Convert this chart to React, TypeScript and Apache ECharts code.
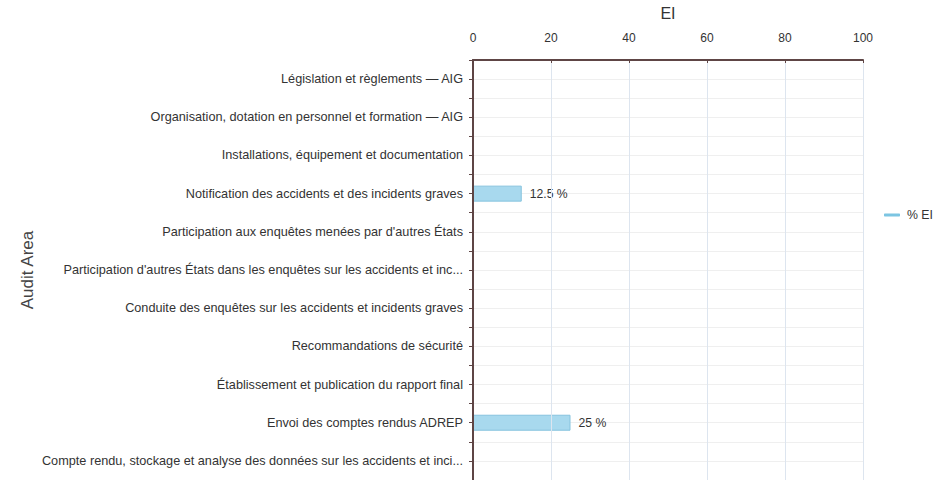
import React, { useEffect, useRef } from "react";
import * as echarts from "echarts";

const categories = [
  "Législation et règlements — AIG",
  "Organisation, dotation en personnel et formation — AIG",
  "Installations, équipement et documentation",
  "Notification des accidents et des incidents graves",
  "Participation aux enquêtes menées par d'autres États",
  "Participation d'autres États dans les enquêtes sur les accidents et inc...",
  "Conduite des enquêtes sur les accidents et incidents graves",
  "Recommandations de sécurité",
  "Établissement et publication du rapport final",
  "Envoi des comptes rendus ADREP",
  "Compte rendu, stockage et analyse des données sur les accidents et inci...",
];
const values = [0, 0, 0, 12.5, 0, 0, 0, 0, 0, 25, 0];
const seriesName = "% EI";
const xTitle = "EI";
const yTitle = "Audit Area";

export default function App() {
  const ref = useRef<HTMLDivElement>(null);
  useEffect(() => {
    if (!ref.current) return;
    const chart = echarts.init(ref.current, null, { renderer: "svg" });
    const font = "'Liberation Sans', Arial, sans-serif";
    const axisColor = "#5e4545";
    const halfBands = Array.from({ length: categories.length * 2 }, () => "");
    chart.setOption({
      animation: false,
      textStyle: { fontFamily: font },
      legend: {
        data: [seriesName],
        left: 884,
        top: 209,
        padding: 0,
        icon: "roundRect",
        itemWidth: 16,
        itemHeight: 3,
        itemGap: 6,
        itemStyle: { color: "#7cc5e2", borderWidth: 0 },
        textStyle: { fontSize: 12.3, color: "#333", fontFamily: font, padding: [0, 0, 0, 2] },
      },
      grid: { left: 473, right: 72, top: 52, height: 429 },
      xAxis: {
        type: "value",
        position: "top",
        min: 0,
        max: 100,
        interval: 20,
        name: xTitle,
        nameLocation: "middle",
        nameGap: 39,
        nameTextStyle: { fontSize: 16, color: "#333", fontFamily: font },
        axisLine: { show: true, lineStyle: { color: axisColor, width: 2 } },
        axisTick: { show: true, inside: true, length: 3, lineStyle: { color: axisColor } },
        axisLabel: { fontSize: 12, color: "#333", margin: 16, fontFamily: font },
        splitLine: { show: true, lineStyle: { color: "#dde5ef" } },
        z: 5,
      },
      yAxis: [
        {
          type: "category",
          data: categories,
          inverse: true,
          name: yTitle,
          nameLocation: "middle",
          nameRotate: 90,
          nameGap: 437,
          nameTextStyle: { fontSize: 17, color: "#444", fontFamily: font },
          axisLine: { show: true, lineStyle: { color: axisColor, width: 2 } },
          axisTick: { show: false },
          axisLabel: { fontSize: 12.7, color: "#333", margin: 10, fontFamily: font },
          splitLine: { show: false },
          z: 5,
        },
        {
          type: "category",
          data: halfBands,
          position: "left",
          axisLine: { show: false },
          axisTick: { show: true, interval: 0, length: 4, lineStyle: { color: axisColor, width: 1 } },
          axisLabel: { show: false },
          splitLine: { show: true, interval: 0, lineStyle: { color: "#efefef" } },
          z: 0,
        },
      ],
      series: [
        {
          name: seriesName,
          type: "bar",
          yAxisIndex: 0,
          data: values.map((v) => ({
            value: v,
            itemStyle: v > 0 ? undefined : { borderWidth: 0, opacity: 0 },
          })),
          barWidth: 16,
          itemStyle: { color: "#a8d9ee", borderColor: "#86c3de", borderWidth: 1 },
          label: {
            show: true,
            position: "right",
            distance: 8,
            fontSize: 12.2,
            color: "#333",
            fontFamily: font,
            formatter: (p: any) => (p.value > 0 ? p.value + " %" : ""),
          },
          z: 3,
        },
      ],
    });
    return () => chart.dispose();
  }, []);
  return (
    <div
      ref={ref}
      style={{ position: "absolute", left: 0, top: 0, width: 935, height: 480 }}
    />
  );
}
